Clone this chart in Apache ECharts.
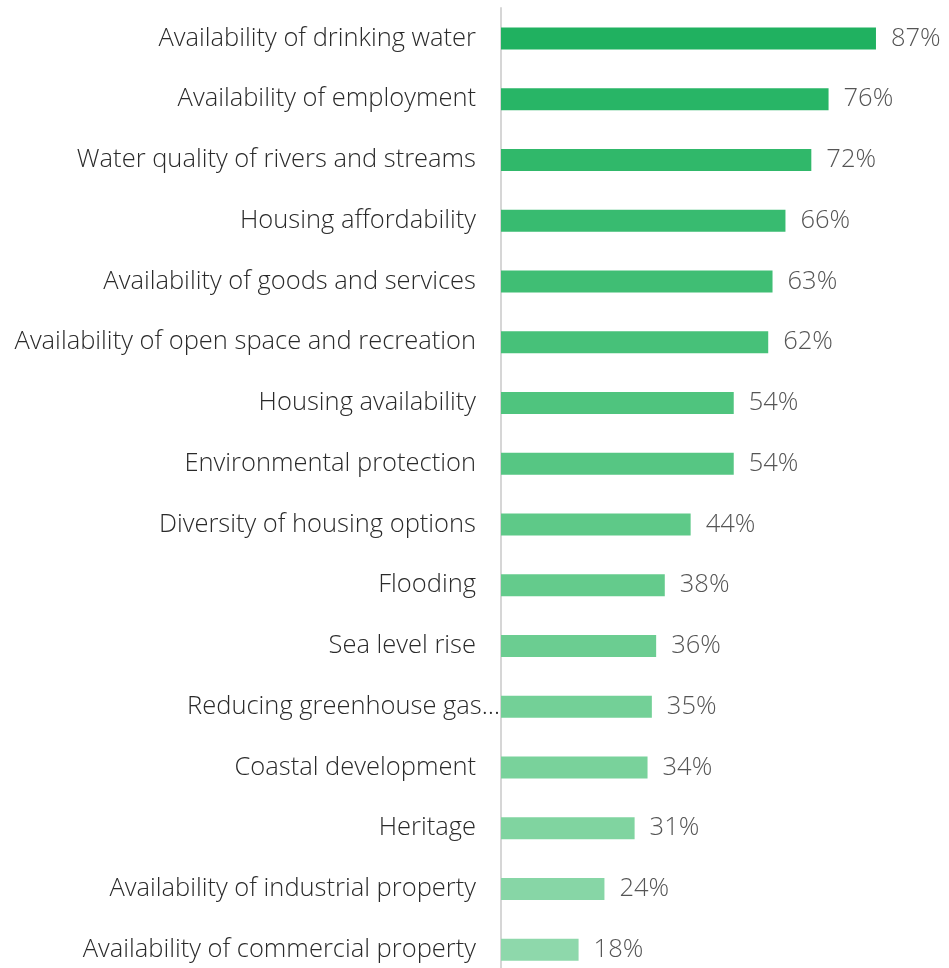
<!DOCTYPE html>
<html>
<head>
<meta charset="utf-8">
<script src="https://cdn.jsdelivr.net/npm/echarts@6/dist/echarts.min.js"></script>
<style>
html,body{margin:0;padding:0;background:#fff;overflow:hidden;}
#main{width:949px;height:980px;}
</style>
</head>
<body>
<div id="main"></div>
<script>
var categories = [
    'Availability of drinking water',
    'Availability of employment',
    'Water quality of rivers and streams',
    'Housing affordability',
    'Availability of goods and services',
    'Availability of open space and recreation',
    'Housing availability',
    'Environmental protection',
    'Diversity of housing options',
    'Flooding',
    'Sea level rise',
    'Reducing greenhouse gas\u2026',
    'Coastal development',
    'Heritage',
    'Availability of industrial property',
    'Availability of commercial property'
];
var values = [87, 76, 72, 66, 63, 62, 54, 54, 44, 38, 36, 35, 34, 31, 24, 18];
var barColors = ['#20b160', '#28b566', '#30b86a', '#38bb70', '#40be74', '#47c179', '#4fc47e', '#56c683',
    '#5ec988', '#64cb8c', '#6bcd91', '#73d097', '#79d29b', '#80d4a0', '#87d6a6', '#8ed8ab'];

// the page is 980px tall so the last row sits at the same place as in the picture (window is 968)
var myChart = echarts.init(document.getElementById('main'));
var seriesData = [];
for (var i = 0; i < values.length; i++) {
    seriesData.push({value: values[i], itemStyle: {color: barColors[i]}});
}
var catData = categories.map(function (c) {
    // the cut-off label runs up to the axis line in the picture
    if (c.indexOf('\u2026') > -1) {
        return {value: c, textStyle: {padding: [0, -24, 0, 0]}};
    }
    return c;
});
var option = {
    animation: false,
    grid: {left: 501, top: 8, width: 431, bottom: 0, containLabel: false},
    xAxis: {
        type: 'value',
        min: 0,
        max: 100,
        show: false
    },
    yAxis: {
        type: 'category',
        inverse: true,
        data: catData,
        axisLine: {show: true, lineStyle: {color: '#d6d6d6', width: 2}},
        axisTick: {show: false},
        axisLabel: {
            margin: 25,
            fontFamily: 'Open Sans',
            fontWeight: 300,
            fontSize: 25.5,
            color: '#2a2a2a'
        }
    },
    series: [{
        type: 'bar',
        data: seriesData,
        barWidth: 22,
        label: {
            show: true,
            position: 'right',
            distance: 15,
            formatter: '{c}%',
            fontFamily: 'Open Sans',
            fontWeight: 300,
            fontSize: 25.5,
            color: '#555'
        }
    }]
};
myChart.setOption(option);
</script>
</body>
</html>
